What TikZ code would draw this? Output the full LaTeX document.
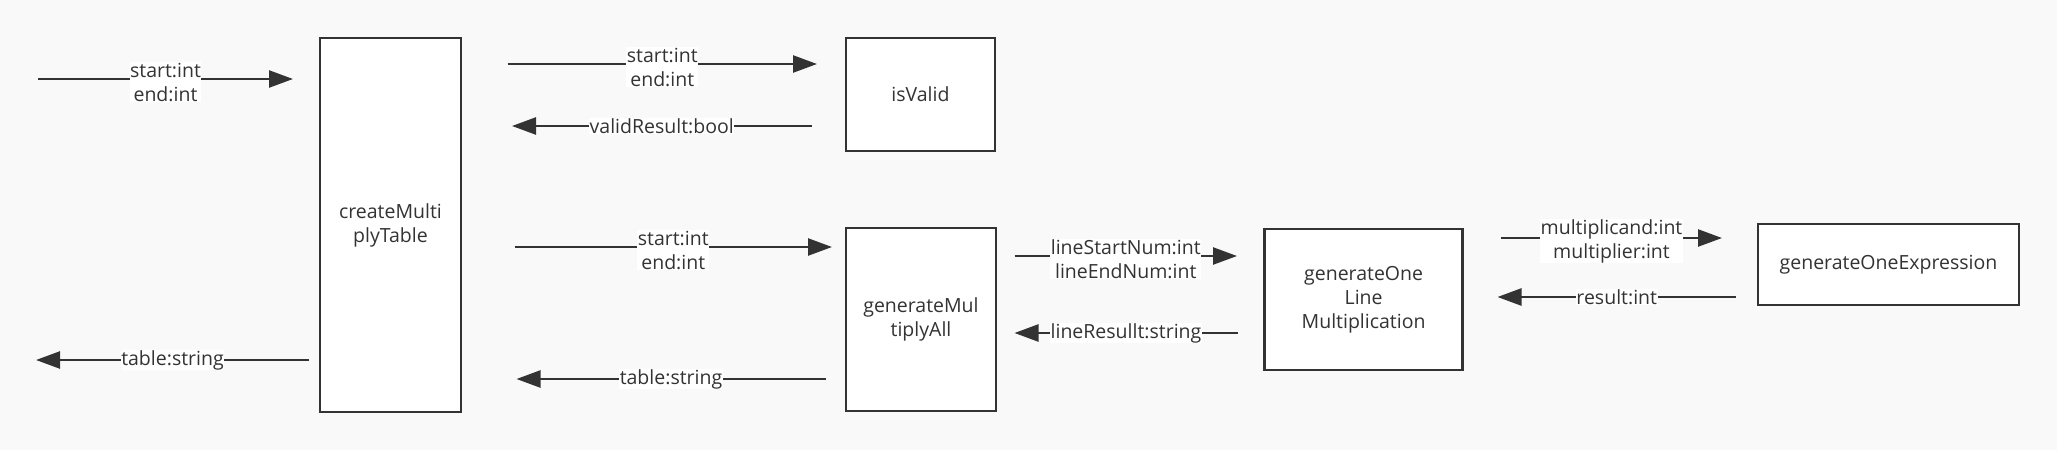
\documentclass[tikz,border=0pt]{standalone}
\usepackage{fontspec}
\setmainfont{Open Sans}
\usetikzlibrary{arrows.meta}
\definecolor{ink}{HTML}{333333}
\definecolor{bg}{HTML}{F9F9F9}
\begin{document}
\begin{tikzpicture}[x=1pt,y=-1pt,
  box/.style={draw=ink,line width=2.5pt,fill=white,text=ink,align=center,inner sep=0pt,font=\fontsize{19.5}{24}\selectfont},
  arr/.style={draw=ink,line width=2.5pt,-{Triangle[length=24pt,width=17pt]}},
  lbl/.style={fill=white,text=ink,align=center,inner sep=0.5pt,font=\fontsize{19.5}{24}\selectfont}]
\fill[bg] (0,0) rectangle (2057,450);
\useasboundingbox (0,0) rectangle (2057,450);

\node[box,minimum width=141pt,minimum height=374pt] (cmt) at (390.5,225) {createMulti\\plyTable};
\node[box,minimum width=149pt,minimum height=113pt] (iv) at (920.5,94.5) {isValid};
\node[box,minimum width=150pt,minimum height=183pt] (gma) at (921,319.5) {generateMul\\tiplyAll};
\node[box,minimum width=198pt,minimum height=141pt] (gol) at (1363.6,299.5) {generateOne\\Line\\Multiplication};
\node[box,minimum width=261pt,minimum height=81pt] (goe) at (1888.5,264.5) {generateOneExpression};

% free ends
\coordinate (in1) at (38,79);   \coordinate (in1t) at (293,79);
\coordinate (out1s) at (309,360); \coordinate (out1t) at (36,360);
\coordinate (a2s) at (507.5,64);  \coordinate (a2t) at (817,64);
\coordinate (v2s) at (811.5,126); \coordinate (v2t) at (512,126);
\coordinate (a3s) at (514.5,247); \coordinate (a3t) at (832,247);
\coordinate (t3s) at (825.5,379); \coordinate (t3t) at (516.5,379);
\coordinate (a4s) at (1014.5,256); \coordinate (a4t) at (1237,256);
\coordinate (r4s) at (1237.5,333); \coordinate (r4t) at (1014.5,333);
\coordinate (a5s) at (1501,238); \coordinate (a5t) at (1722,238);
\coordinate (r5s) at (1736,297); \coordinate (r5t) at (1497.5,297);

\draw[arr] (in1) -- node[lbl,yshift=-3pt]{start:int\\end:int} (in1t);
\draw[arr] (out1s) -- node[lbl]{table:string} (out1t);
\draw[arr] (a2s) -- node[lbl,yshift=-3pt]{start:int\\end:int} (a2t);
\draw[arr] (v2s) -- node[lbl]{validResult:bool} (v2t);
\draw[arr] (a3s) -- node[lbl,yshift=-3pt]{start:int\\end:int} (a3t);
\draw[arr] (t3s) -- node[lbl]{table:string} (t3t);
\draw[arr] (a4s) -- node[lbl,yshift=-3pt]{lineStartNum:int\\lineEndNum:int} (a4t);
\draw[arr] (r4s) -- node[lbl]{lineResullt:string} (r4t);
\draw[arr] (a5s) -- node[lbl,yshift=-3pt]{multiplicand:int\\multiplier:int} (a5t);
\draw[arr] (r5s) -- node[lbl]{result:int} (r5t);
\end{tikzpicture}
\end{document}
